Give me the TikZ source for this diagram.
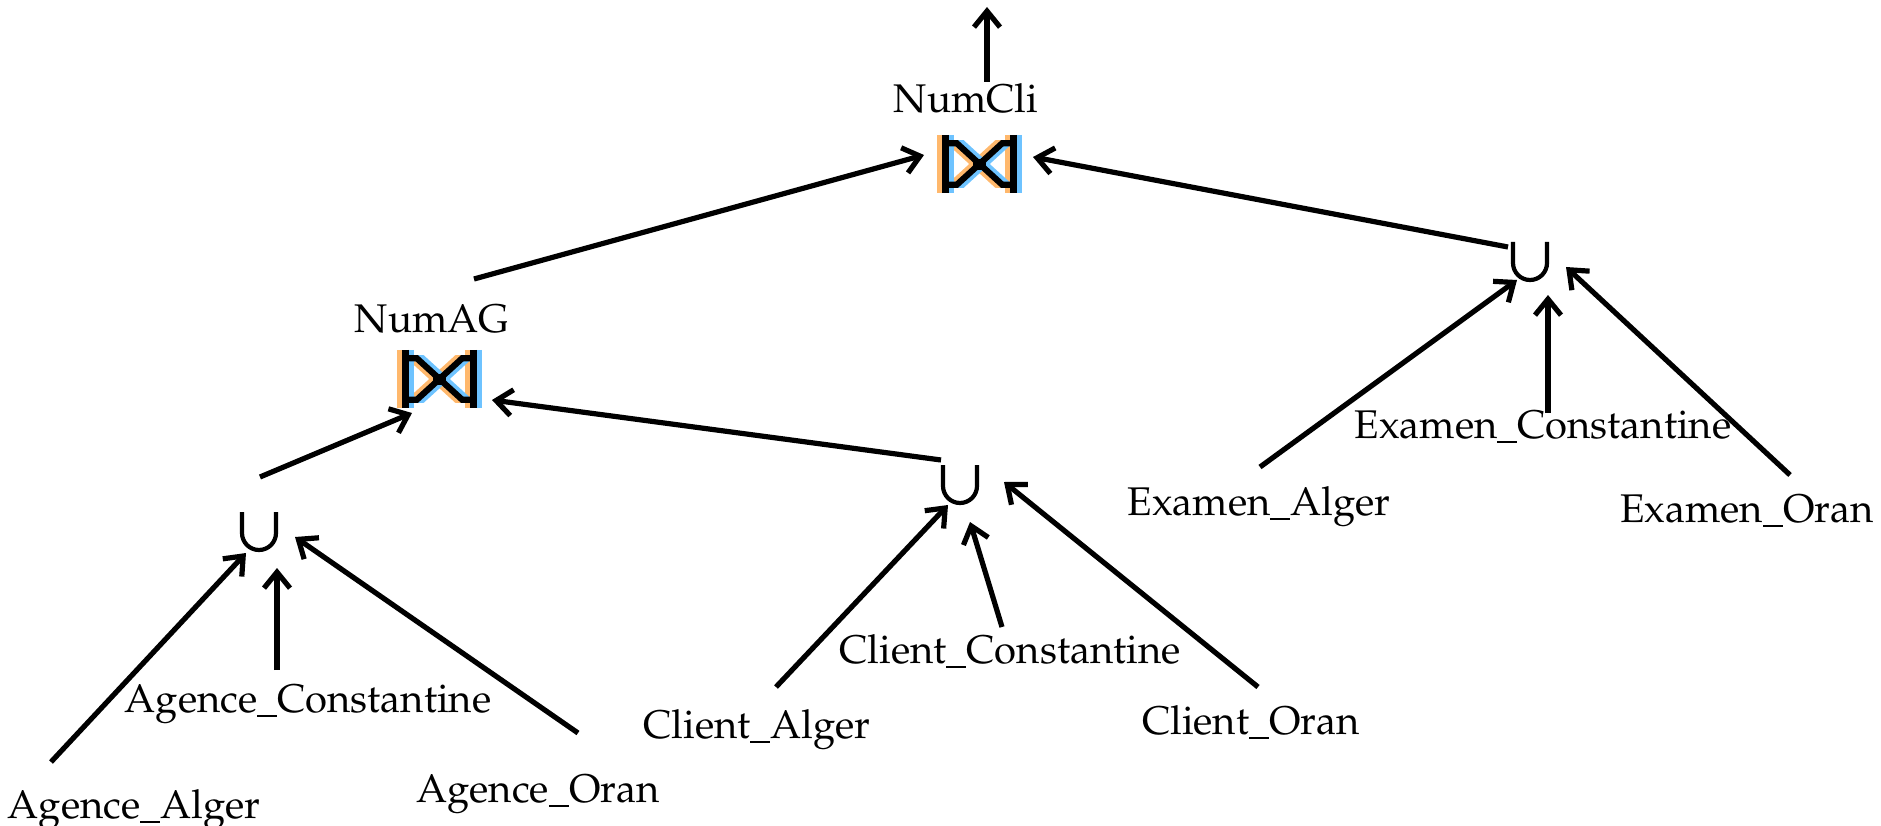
\documentclass[tikz,border=0pt]{standalone}
\usepackage[T1]{fontenc}
\usepackage{mathpazo}
\usetikzlibrary{arrows.meta,calc}
\definecolor{joinorange}{HTML}{FFB86C}
\definecolor{joinblue}{HTML}{6EC3FF}
\newcommand\drawjoin[1]{%
  \begin{scope}[shift={(#1.center)}, x=5.667pt, y=-5.667pt, shift={(-7.5,-5.15)}, line width=6.2pt]
    \foreach \dx/\col in {-1/joinorange, 1/joinblue, 0/black}{%
      \begin{scope}[xshift=\dx*5.667pt]
        \draw[\col] (1.5,0)--(1.5,10.3) (13.5,0)--(13.5,10.3);
        \draw[\col] (1.5,1.5)--(3.5,1.5)--(11.5,8.8)--(13.5,8.8);
        \draw[\col] (1.5,8.8)--(3.5,8.8)--(11.5,1.5)--(13.5,1.5);
      \end{scope}}
    \fill[black] (6.3,4.2) rectangle (8.7,6.2);
  \end{scope}}
\newcommand\drawunion[1]{%
  \draw[uline] ($(#1)+(-17,-20)$) -- ($(#1)+(-17,1)$) arc[start angle=180,end angle=360,radius=17pt] -- ($(#1)+(17,-20)$);}
\begin{document}
\begin{tikzpicture}[x=1pt,y=-1pt,
  arr/.style={line width=5.2pt, -{Straight Barb[length=16pt,width=26pt]}},
  lbl/.style={inner sep=0pt, anchor=base, font=\fontsize{40}{48}\selectfont},
  joinnode/.style={inner sep=0pt, minimum width=85pt, minimum height=58pt},
  unionnode/.style={inner sep=0pt, minimum width=38pt, minimum height=40pt},
  uline/.style={line width=4.2pt}]
\useasboundingbox (0,0) rectangle (1881,826);
% operators
\node[joinnode] (j1) at (979.5,164) {};
\node[joinnode] (j2) at (439.5,379) {};
\node[unionnode] (u1) at (259,532) {};
\node[unionnode] (u2) at (960,485) {};
\node[unionnode] (u3) at (1530,262) {};
\drawjoin{j1}
\drawjoin{j2}
\drawunion{u1}
\drawunion{u2}
\drawunion{u3}
\coordinate (out) at (987,7);
% labels
\node[lbl] (numcli) at (966,113) {NumCli};
\node[lbl] (numag) at (432,332) {NumAG};
\node[lbl] (aa) at (134,818) {Agence\_Alger};
\node[lbl] (ac) at (308,712) {Agence\_Constantine};
\node[lbl] (ao) at (538,802) {Agence\_Oran};
\node[lbl] (ca) at (757,738) {Client\_Alger};
\node[lbl] (cc) at (1010,663) {Client\_Constantine};
\node[lbl] (co) at (1251,734) {Client\_Oran};
\node[lbl] (ea) at (1259,515) {Examen\_Alger};
\node[lbl] (ec) at (1543,438) {Examen\_Constantine};
\node[lbl] (eo) at (1747,522) {Examen\_Oran};
% connectors
\draw[arr] ($(j1)+(7.5,-82)$) -- (out);
\draw[arr] ($(j2)+(34.5,-100)$) -- ($(j1)+(-55.5,-9)$);
\draw[arr] ($(u3)+(-22,-15)$) -- ($(j1)+(53.5,-7)$);
\draw[arr] ($(ea.base)+(1,-48)$) -- ($(u3)+(-13,18)$);
\draw[arr] ($(ec.base)+(5,-25)$) -- ($(u3)+(18,33)$);
\draw[arr] ($(eo.base)+(43,-47)$) -- ($(u3)+(36,5)$);
\draw[arr] ($(u1)+(1,-55)$) -- ($(j2)+(-27.5,34)$);
\draw[arr] ($(u2)+(-19,-25)$) -- ($(j2)+(52.5,21)$);
\draw[arr] ($(aa.base)+(-83,-56)$) -- ($(u1)+(-13,21)$);
\draw[arr] ($(ac.base)+(-31,-42)$) -- ($(u1)+(18,36)$);
\draw[arr] ($(ao.base)+(40,-69)$) -- ($(u1)+(36,5)$);
\draw[arr] ($(ca.base)+(19,-51)$) -- ($(u2)+(-12,20)$);
\draw[arr] ($(cc.base)+(-8,-36)$) -- ($(u2)+(10,37)$);
\draw[arr] ($(co.base)+(7,-47)$) -- ($(u2)+(44,-3)$);
\end{tikzpicture}
\end{document}
